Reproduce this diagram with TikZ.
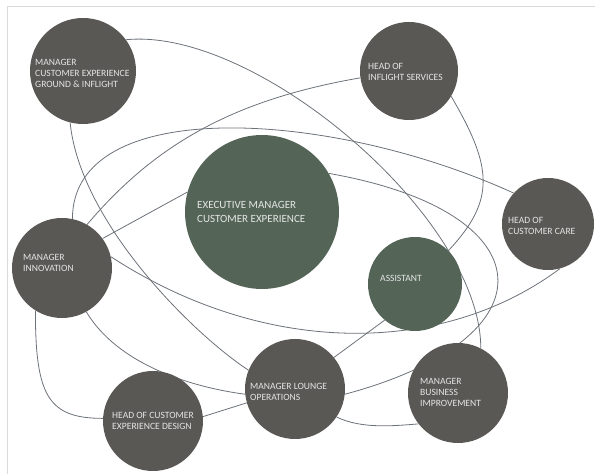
\documentclass[tikz,border=0pt]{standalone}
\usepackage{fontspec}
\setmainfont{Carlito}
\usetikzlibrary{backgrounds}
\definecolor{rolegray}{HTML}{5A5854}
\definecolor{rolegreen}{HTML}{546558}
\definecolor{linkgray}{HTML}{6C7279}
\definecolor{framegray}{HTML}{DADADA}
\tikzset{
 role/.style={circle, fill=rolegray, inner sep=0pt, minimum size=#1},
 lead/.style={circle, fill=rolegreen, inner sep=0pt, minimum size=#1},
 txt/.style={anchor=west, align=left, inner sep=0pt, text=white!90!black,
  font=\fontsize{9.6}{11}\selectfont},
 bigtxt/.style={txt, font=\fontsize{11}{13.5}\selectfont},
 link/.style={draw=linkgray, line width=0.8pt},
}
\begin{document}
\begin{tikzpicture}[x=1pt,y=1pt]
\useasboundingbox (0,0) rectangle (595,474);
\draw[framegray, line width=1pt] (7,-5) -- (7,467) -- (600,467);

% circles
\node[role=106pt] (mcegi) at (83,403) {};
\node[role=98pt]  (his)   at (409,403) {};
\node[lead=154pt] (exec)  at (262,262) {};
\node[role=92pt]  (hcc)   at (548,250) {};
\node[lead=94pt]  (asst)  at (415,190) {};
\node[role=100pt] (mi)    at (62,206) {};
\node[role=100pt] (hcxd)  at (153,53) {};
\node[role=100pt] (mlo)   at (295,85) {};
\node[role=100pt] (mbi)   at (458,81) {};

% texts
\node[txt] (mcegi-t) at (35,401) {MANAGER\\CUSTOMER EXPERIENCE\\GROUND \& INFLIGHT};
\node[txt] (his-t)   at (368,402) {HEAD OF\\INFLIGHT SERVICES};
\node[bigtxt] (exec-t) at (197,262) {EXECUTIVE MANAGER\\CUSTOMER EXPERIENCE};
\node[txt] (hcc-t)   at (508,248) {HEAD OF\\CUSTOMER CARE};
\node[txt] (asst-t)  at (380,196) {ASSISTANT};
\node[txt] (mi-t)    at (23,211) {MANAGER\\INNOVATION};
\node[txt] (hcxd-t)  at (112,53) {HEAD OF CUSTOMER\\EXPERIENCE DESIGN};
\node[txt] (mlo-t)   at (250,82) {MANAGER LOUNGE\\OPERATIONS};
\node[txt] (mbi-t)   at (420,82) {MANAGER\\BUSINESS\\IMPROVEMENT};

\begin{scope}[on background layer]
\draw[link] (mcegi.36) .. controls +(130,13) and +(0,131) .. (mbi.63);
\draw[link] (mcegi.256) .. controls +(10,-100) and +(-55,36) .. (mlo.158);
\draw[link] (hcc.138) .. controls +(-184,84) and +(0,124) .. (mi.78);
\draw[link] (mi.13) .. controls +(150,-98) and +(-121,-90) .. (hcc.285);
\draw[link] (mi.60) .. controls +(71,84) and +(-121,-21) .. (his.188);
\draw[link] (mi.36) -- (exec.165);
\draw[link] (exec.30) .. controls +(217,-38) and +(212,57) .. (mlo.-6);
\draw[link] (his.-31) .. controls +(41,-70) and +(48,51) .. (asst.45);
\draw[link] (mi.238) .. controls +(0,-85) and +(-55,0) .. (hcxd.177);
\draw[link] (mi.-61) .. controls +(30,-50) and +(-60,8) .. (mlo.186);
\draw[link] (hcxd.5) -- (mlo.196);
\draw[link] (mlo.-34) .. controls +(25,-12) and +(-25,-2) .. (mbi.218);
\draw[link] (mlo.39) -- (asst.230);
\end{scope}
\end{tikzpicture}
\end{document}
